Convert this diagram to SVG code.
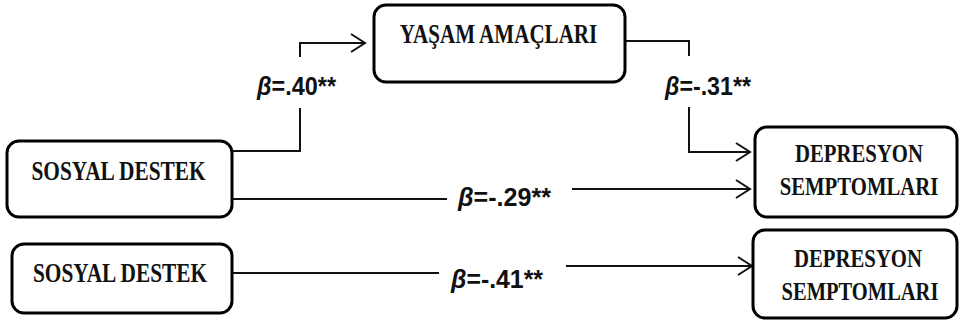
<svg xmlns="http://www.w3.org/2000/svg" width="961" height="321" viewBox="0 0 961 321">
<style>
.box{fill:#fff;stroke:#000;stroke-width:3}
.bt{font-family:"Liberation Serif","Times New Roman",serif;font-weight:bold;fill:#111;text-anchor:middle}
.lbl{font-family:"Liberation Sans",Arial,sans-serif;font-weight:bold;font-size:25px;fill:#111}
.con{fill:none;stroke:#111;stroke-width:2}
</style>
<defs>
<marker id="arr" markerUnits="userSpaceOnUse" markerWidth="17" markerHeight="22" refX="15" refY="10" orient="auto">
<path d="M1,1 L15,10 L1,19" fill="none" stroke="#111" stroke-width="2"/>
</marker>
</defs>
<rect width="961" height="321" fill="#fff"/>
<g id="connectors">
<polyline class="con" points="232,151 300,151 300,108"/>
<polyline class="con" points="300,57 300,43 365,43" marker-end="url(#arr)"/>
<polyline class="con" points="625,41 689,41 689,56"/>
<polyline class="con" points="689,107 689,152 750,152" marker-end="url(#arr)"/>
<line class="con" x1="232" y1="199" x2="447" y2="199"/>
<line class="con" x1="572" y1="189" x2="750" y2="189" marker-end="url(#arr)"/>
<line class="con" x1="232" y1="273" x2="439" y2="273"/>
<line class="con" x1="566" y1="266" x2="752" y2="266" marker-end="url(#arr)"/>
<text class="lbl" x="257" y="95" textLength="79" lengthAdjust="spacingAndGlyphs"><tspan font-style="italic">β</tspan>=.40**</text>
<text class="lbl" x="665" y="95" textLength="86" lengthAdjust="spacingAndGlyphs"><tspan font-style="italic">β</tspan>=-.31**</text>
<text class="lbl" x="458" y="206" textLength="93" lengthAdjust="spacingAndGlyphs"><tspan font-style="italic">β</tspan>=-.29**</text>
<text class="lbl" x="451" y="288" textLength="92" lengthAdjust="spacingAndGlyphs"><tspan font-style="italic">β</tspan>=-.41**</text>
</g>
<g id="yasam">
<rect class="box" x="374" y="5" width="251" height="77" rx="12"/>
<text class="bt" font-size="27" transform="translate(498.5,43) scale(0.78,1)">YAŞAM AMAÇLARI</text>
</g>
<g id="sosyal1">
<rect class="box" x="7" y="141" width="225" height="76" rx="12"/>
<text class="bt" font-size="27" transform="translate(118.5,180) scale(0.79,1)">SOSYAL DESTEK</text>
</g>
<g id="sosyal2">
<rect class="box" x="12" y="244" width="220" height="69" rx="12"/>
<text class="bt" font-size="27" transform="translate(120,282) scale(0.79,1)">SOSYAL DESTEK</text>
</g>
<g id="depresyon1">
<rect class="box" x="755" y="127" width="202" height="90" rx="12"/>
<text class="bt" font-size="25" transform="translate(859,162) scale(0.83,1)">DEPRESYON</text>
<text class="bt" font-size="25" transform="translate(859,195) scale(0.83,1)">SEMPTOMLARI</text>
</g>
<g id="depresyon2">
<rect class="box" x="753" y="230" width="204" height="88" rx="12"/>
<text class="bt" font-size="25" transform="translate(858,267) scale(0.83,1)">DEPRESYON</text>
<text class="bt" font-size="25" transform="translate(860,300) scale(0.82,1)">SEMPTOMLARI</text>
</g>
</svg>
